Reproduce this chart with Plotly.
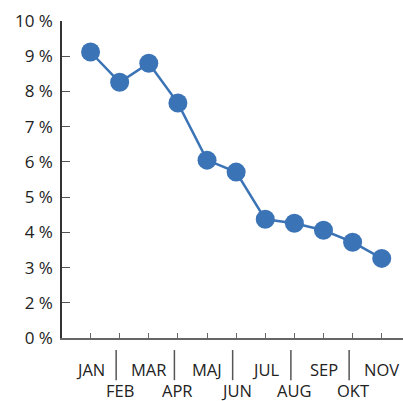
import plotly.graph_objects as go

months = ["JAN", "FEB", "MAR", "APR", "MAJ", "JUN", "JUL", "AUG", "SEP", "OKT", "NOV"]
values = [9.12, 8.26, 8.80, 7.67, 6.05, 5.71, 4.37, 4.26, 4.06, 3.72, 3.26]
y_tickvals = [1, 2, 3, 4, 5, 6, 7, 8, 9, 10]
y_ticktext = ["0 %", "2 %", "3 %", "4 %", "5 %", "6 %", "7 %", "8 %", "9 %", "10 %"]

FONT = "Open Sans"
TXT = "#222222"
BLUE = "#3a73b6"

idx = list(range(len(months)))

fig = go.Figure()
fig.add_trace(go.Scatter(
    x=idx, y=values, mode="lines+markers",
    line=dict(color=BLUE, width=2.5),
    marker=dict(color=BLUE, size=19),
    hoverinfo="skip", showlegend=False,
))

annotations = []
shapes = []
for i, m in enumerate(months):
    annotations.append(dict(
        x=i, y=0, xref="x", yref="paper", text=m, showarrow=False,
        yanchor="middle", xanchor="center",
        yshift=-31 if i % 2 == 0 else -52,
        font=dict(family=FONT, size=16.5, color=TXT),
    ))
    if i % 2 == 1:
        shapes.append(dict(
            type="line", xref="x", yref="paper",
            x0=i - 0.12, x1=i - 0.12, y0=-0.038, y1=-0.133,
            line=dict(color="#555555", width=1.5),
        ))

fig.update_layout(
    width=403, height=401,
    margin=dict(l=62, r=0, t=21, b=63),
    paper_bgcolor="white", plot_bgcolor="white",
    annotations=annotations, shapes=shapes,
    xaxis=dict(
        range=[-0.98, 10.73], tickvals=idx, ticktext=[""] * len(idx),
        showgrid=False, zeroline=False,
        showline=True, linecolor="#666666", linewidth=1.5,
        ticks="inside", ticklen=5, tickcolor="#666666", tickwidth=1.2,
    ),
    yaxis=dict(
        range=[1, 10], tickvals=y_tickvals, ticktext=y_ticktext,
        showgrid=False, zeroline=False,
        showline=True, linecolor="#333333", linewidth=1.5,
        ticks="inside", ticklen=8, tickcolor="#555555", tickwidth=1.2,
        tickfont=dict(family=FONT, size=17, color=TXT),
        ticklabelstandoff=4,
    ),
)

fig.write_html(
    "out.html",
    config={"displayModeBar": False},
    post_script="document.body.style.margin='0';document.body.style.overflow='hidden';",
)
